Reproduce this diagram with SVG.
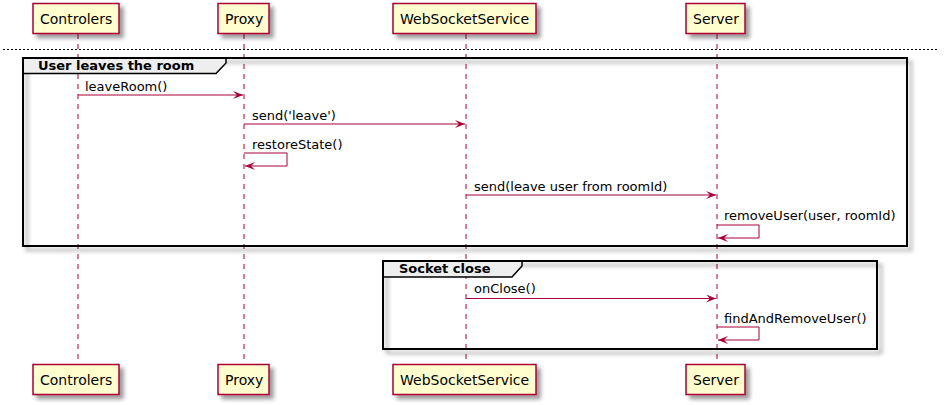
<svg xmlns="http://www.w3.org/2000/svg" width="950" height="405" viewBox="0 0 950 405">
<defs>
<filter id="sh" x="-20%" y="-20%" width="150%" height="160%">
<feGaussianBlur in="SourceAlpha" stdDeviation="2" result="b"/>
<feOffset in="b" dx="4" dy="4" result="o"/>
<feComponentTransfer in="o" result="c"><feFuncA type="linear" slope="0.4"/></feComponentTransfer>
<feMerge><feMergeNode in="c"/><feMergeNode in="SourceGraphic"/></feMerge>
</filter>
<marker id="ah" viewBox="0 0 10 8" refX="10" refY="4" markerWidth="10" markerHeight="8" markerUnits="userSpaceOnUse" orient="auto">
<polygon points="0,0 10,4 0,8 4,4" fill="#A80036"/>
</marker>
</defs>
<style>
.part rect{fill:#FEFECE;stroke:#A80036;stroke-width:1.5;}
.part text{font-family:"DejaVu Sans",sans-serif;font-size:14px;fill:#000;}
.life{stroke:#A80036;stroke-width:1;stroke-dasharray:5,5;fill:none;}
.msg{stroke:#A80036;stroke-width:1;fill:none;marker-end:url(#ah);}
.lbl{font-family:"DejaVu Sans",sans-serif;font-size:13px;fill:#000;}
.frame{fill:none;stroke:#000;stroke-width:2;}
.tab{fill:#EEEEEE;stroke:#000;stroke-width:1.5;}
.gt{font-family:"DejaVu Sans",sans-serif;font-size:13px;font-weight:bold;fill:#000;}
</style>
<rect width="950" height="405" fill="#FFFFFF"/>
<g id="lifelines">
<line class="life" x1="78" y1="34" x2="78" y2="364"/>
<line class="life" x1="244" y1="34" x2="244" y2="364"/>
<line class="life" x1="466" y1="34" x2="466" y2="364"/>
<line class="life" x1="717" y1="34" x2="717" y2="364"/>
</g>
<line x1="3" y1="49.5" x2="937" y2="49.5" stroke="#000" stroke-width="1" stroke-dasharray="2,2"/>
<g id="group-user-leaves">
<rect class="frame" x="23" y="58" width="884" height="188" filter="url(#sh)"/>
<polygon class="tab" points="23,58 226,58 226,63 216,73.5 23,73.5"/>
<rect x="23" y="58" width="884" height="188" fill="none" stroke="#000" stroke-width="2"/>
<text class="gt" x="38" y="69.5">User leaves the room</text>
</g>
<g id="group-socket-close">
<rect class="frame" x="383" y="261" width="494" height="88" filter="url(#sh)"/>
<polygon class="tab" points="383,261 522,261 522,266 512,277 383,277"/>
<rect x="383" y="261" width="494" height="88" fill="none" stroke="#000" stroke-width="2"/>
<text class="gt" x="399" y="272.5">Socket close</text>
</g>
<g id="p-controlers-top" class="part"><rect x="33" y="3.5" width="86" height="30" filter="url(#sh)"/><text x="40" y="23.5">Controlers</text></g>
<g id="p-proxy-top" class="part"><rect x="218" y="3.5" width="51" height="30" filter="url(#sh)"/><text x="225" y="23.5">Proxy</text></g>
<g id="p-wss-top" class="part"><rect x="393" y="3.5" width="143" height="30" filter="url(#sh)"/><text x="400" y="23.5">WebSocketService</text></g>
<g id="p-server-top" class="part"><rect x="686" y="3.5" width="59" height="30" filter="url(#sh)"/><text x="693" y="23.5">Server</text></g>
<g id="p-controlers-bottom" class="part"><rect x="33" y="364.5" width="86" height="30" filter="url(#sh)"/><text x="40" y="384.5">Controlers</text></g>
<g id="p-proxy-bottom" class="part"><rect x="218" y="364.5" width="51" height="30" filter="url(#sh)"/><text x="225" y="384.5">Proxy</text></g>
<g id="p-wss-bottom" class="part"><rect x="393" y="364.5" width="143" height="30" filter="url(#sh)"/><text x="400" y="384.5">WebSocketService</text></g>
<g id="p-server-bottom" class="part"><rect x="686" y="364.5" width="59" height="30" filter="url(#sh)"/><text x="693" y="384.5">Server</text></g>
<g id="connectors">
<line class="msg" x1="78" y1="95" x2="243" y2="95"/>
<text class="lbl" x="85" y="90.5">leaveRoom()</text>
<line class="msg" x1="244" y1="124" x2="465" y2="124"/>
<text class="lbl" x="252" y="119.5">send('leave')</text>
<polyline class="msg" points="244,153 287,153 287,166 245,166"/>
<text class="lbl" x="252" y="148.5">restoreState()</text>
<line class="msg" x1="466" y1="195" x2="716" y2="195"/>
<text class="lbl" x="474" y="190.5">send(leave user from roomId)</text>
<polyline class="msg" points="717,225 759,225 759,238 718,238"/>
<text class="lbl" x="724" y="220">removeUser(user, roomId)</text>
<line class="msg" x1="466" y1="298.5" x2="716" y2="298.5"/>
<text class="lbl" x="474" y="293">onClose()</text>
<polyline class="msg" points="717,327 759,327 759,340 718,340"/>
<text class="lbl" x="724" y="322.5">findAndRemoveUser()</text>
</g>
</svg>
